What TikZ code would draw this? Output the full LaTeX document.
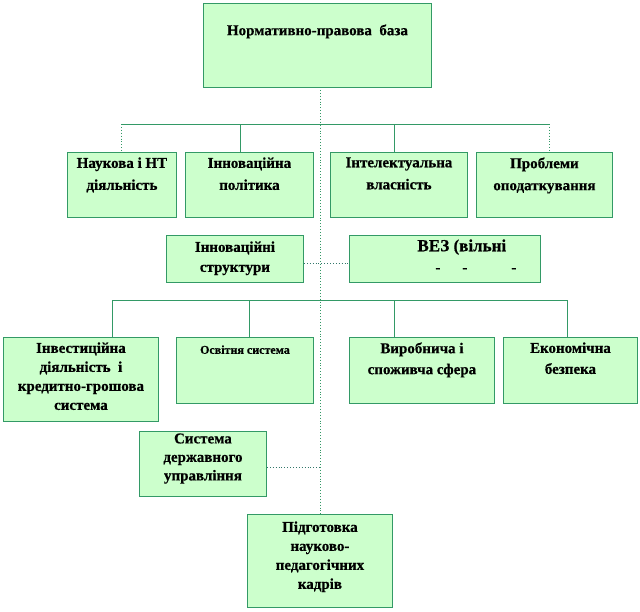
\documentclass[tikz,border=0pt]{standalone}
\usepackage{fontspec}
\setmainfont{Liberation Serif}[FakeBold=0.6]
\definecolor{boxfill}{HTML}{CCFFCC}
\definecolor{boxline}{HTML}{339966}
\definecolor{dotline}{HTML}{33776A}
\begin{document}
\begin{tikzpicture}[x=1pt,y=-1pt,
  box/.style={draw=boxline, fill=boxfill, line width=0.9pt},
  tree/.style={draw=boxline, line width=0.9pt},
  treedot/.style={draw=boxline, line width=0.9pt, dotted},
  link/.style={draw=dotline, line width=0.9pt, dotted}]
\useasboundingbox (0,0) rectangle (640,611);
\newcommand{\boxat}[9]{%
  \node[box, anchor=north west, inner sep=0pt] (#1) at (#2,#3)
  {\parbox[c][\dimexpr#5pt-#3pt\relax][t]{\dimexpr#4pt-#2pt\relax}{\centering\fontsize{#7}{#8}\selectfont\bfseries\vspace*{#6pt}#9}};}
% top
\boxat{top}{203}{3}{431}{87}{21}{15}{20}{Нормативно-правова\ \ база}
% row 1
\boxat{a1}{67}{152}{176}{217}{5}{15}{22}{Наукова і НТ\\ діяльність}
\boxat{a2}{185}{152}{313}{217}{5}{15}{22}{Інноваційна\\ політика}
\boxat{a3}{330}{152}{467}{217}{5}{15}{22}{Інтелектуальна\\ власність}
\boxat{a4}{476}{152}{612}{217}{5}{15}{22}{Проблеми\\ оподаткування}
% middle
\boxat{s1}{166}{235}{303}{282}{6}{15}{20}{Інноваційні\\ структури}
\node[box, anchor=north west, inner sep=0pt] (s2) at (349,235)
  {\parbox[c][47pt][t]{191pt}{\raggedright\fontsize{17}{22}\selectfont\bfseries\vspace*{4pt}%
   \hspace*{68pt}ВЕЗ (вільні\\[-1pt]
   \fontsize{15}{22}\selectfont\hspace*{86pt}-\hspace{22pt}-\hspace{44pt}-}};
% row 2
\boxat{b1}{3}{337}{158}{421}{5}{15}{19}{Інвестиційна\\ діяльність\ \ і\\ кредитно-грошова\\ система}
\boxat{b2}{176}{337}{313}{403}{8}{12}{19}{Освітня система}
\boxat{b3}{349}{337}{494}{403}{5}{15}{21}{Виробнича і\\ споживча сфера}
\boxat{b4}{503}{337}{637}{403}{5}{15}{21}{Економічна\\ безпека}
% lower
\boxat{g}{139}{431}{266}{496}{2}{15}{18.5}{Система\\ державного\\ управління}
\boxat{p}{247}{514}{392}{607}{7}{15}{19}{Підготовка\\ науково-\\ педагогічних\\ кадрів}
% coordinates
\coordinate (c0) at (320,87);
\coordinate (cs) at (320,263);
\coordinate (cg) at (320,467);
% central dotted line
\draw[treedot] (c0) -- (c0 |- p.north);
% first bracket
\draw[tree] (121,124) -- (549,124);
\draw[treedot] (121,124) -- (121,0 |- a1.north);
\draw[tree] (240,124) -- (240,0 |- a2.north);
\draw[tree] (394,124) -- (394,0 |- a3.north);
\draw[treedot] (549,124) -- (549,0 |- a4.north);
% second bracket
\draw[tree] (112,300) -- (567,300);
\draw[tree] (112,300) -- (112,0 |- b1.north);
\draw[tree] (249,300) -- (249,0 |- b2.north);
\draw[tree] (394,300) -- (394,0 |- b3.north);
\draw[tree] (567,300) -- (567,0 |- b4.north);
% side links
\draw[link] (s1.east |- cs) -- (s2.west |- cs);
\draw[link] (g.east |- cg) -- (cg);
\end{tikzpicture}
\end{document}
